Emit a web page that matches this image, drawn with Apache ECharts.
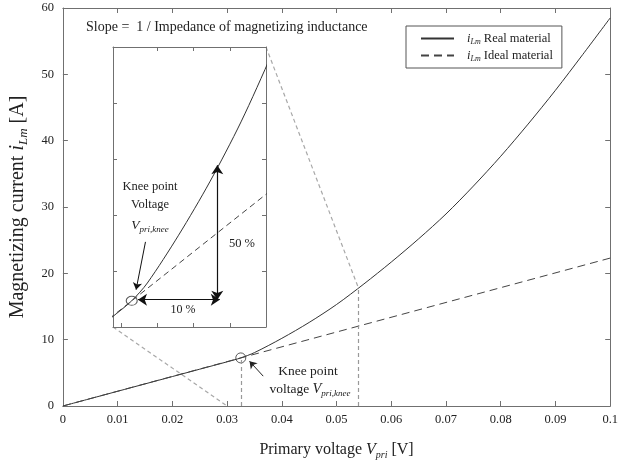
<!DOCTYPE html>
<html>
<head>
<meta charset="utf-8">
<script src="https://cdn.jsdelivr.net/npm/echarts@6/dist/echarts.min.js"></script>
<style>
html, body { margin: 0; padding: 0; background: #fff; }
#chart { width: 621px; height: 465px; }
</style>
</head>
<body>
<div id="chart"></div>
<script>
// values
const voltage = [0, 0.005, 0.01, 0.015, 0.02, 0.025, 0.03, 0.0325, 0.035, 0.04, 0.045, 0.05,
    0.055, 0.06, 0.065, 0.07, 0.075, 0.08, 0.085, 0.09, 0.095, 0.1];
const realCurrent = [0, 1.11, 2.22, 3.33, 4.44, 5.55, 6.66, 7.25, 8.05, 10.2, 12.6, 15.3,
    18.4, 21.7, 25.2, 28.95, 33.15, 37.65, 42.5, 47.6, 53.0, 58.5];
const idealVoltage = [0, 0.1];
const idealCurrent = [0, 22.3];

const knee = [0.0325, 7.25];
const zoomTop = [0.054, 17.8];     // where the zoomed region ends on the real curve
const zoomBottom = [0.030, 0];

const xTicks = [0, 0.01, 0.02, 0.03, 0.04, 0.05, 0.06, 0.07, 0.08, 0.09, 0.1];
const yTicks = [0, 10, 20, 30, 40, 50, 60];

// inset (magnified view around the knee)
const insetX = [0.0295, 0.054];
const insetY = [6.07, 18.67];
const insetXTicks = [0.0308, 0.0366, 0.0424, 0.0483];
const insetYTicks = [8.59, 11.11, 13.63, 16.15];
const tenPercent = [[0.0335, 7.3], [0.0466, 7.3]];
const fiftyPercent = [[0.0462, 7.3], [0.0462, 13.35]];
const insetPointer = [[0.0347, 9.9], [0.0332, 7.75]];
const mainPointer = [[0.0366, 4.5], [0.0341, 6.75]];

const legendLabels = { Real: 'Real material', Ideal: 'Ideal material' };

const SERIF = '"Liberation Serif", "Times New Roman", serif';
const INK = '#222';
const BOX = '#707070';

const pairs = (xs, ys) => xs.map((x, i) => [x, ys[i]]);
const realData = pairs(voltage, realCurrent);
const idealData = pairs(idealVoltage, idealCurrent);

const axisRich = (size) => ({
    t: { fontFamily: SERIF, fontSize: size, color: INK },
    i: { fontFamily: SERIF, fontSize: size, fontStyle: 'italic', color: INK, lineHeight: size + 5 },
    s: { fontFamily: SERIF, fontSize: Math.round(size * 0.65), fontStyle: 'italic', color: INK, verticalAlign: 'bottom', lineHeight: Math.round(size * 0.7) }
});

const boxAxis = (extra) => Object.assign({
    type: 'value',
    axisLine: { show: true, onZero: false, lineStyle: { color: BOX, width: 1 } },
    axisTick: { show: true, inside: true, length: 5, lineStyle: { color: BOX } },
    axisLabel: { show: false },
    splitLine: { show: false }
}, extra);

const chart = echarts.init(document.getElementById('chart'), null, { renderer: 'canvas' });

const option = {
    animation: false,
    backgroundColor: '#fff',
    grid: [
        { left: 62, top: 8, right: 1, bottom: 57 },
        { left: 113, top: 47, width: 153, height: 280, show: true, backgroundColor: '#fff', borderWidth: 0 }
    ],
    legend: {
        data: ['Real', 'Ideal'],
        orient: 'vertical',
        left: 406,
        top: 26,
        padding: [6, 9, 5, 14],
        itemWidth: 33,
        itemHeight: 12,
        itemGap: 3,
        borderColor: '#555',
        borderWidth: 1,
        backgroundColor: '#fff',
        itemStyle: { opacity: 0 },
        formatter: name => '{i|i}{s|Lm}{t| ' + legendLabels[name] + '}',
        textStyle: {
            padding: [0, 0, 0, 8],
            rich: {
                t: { fontFamily: SERIF, fontSize: 12.5, color: INK },
                i: { fontFamily: SERIF, fontSize: 12.5, fontStyle: 'italic', color: INK, lineHeight: 15 },
                s: { fontFamily: SERIF, fontSize: 8, fontStyle: 'italic', color: INK, verticalAlign: 'bottom', lineHeight: 9 }
            }
        }
    },
    xAxis: [
        boxAxis({
            gridIndex: 0, position: 'bottom', min: 0, max: 0.1, interval: 0.01,
            axisLabel: {
                show: true, margin: 7, fontFamily: SERIF, fontSize: 12.5, color: INK,
                formatter: v => String(xTicks[Math.round(v * 100)])
            },
            name: '{t|Primary voltage }{i|V}{s|pri}{t| [V]}',
            nameLocation: 'middle',
            nameGap: 33,
            nameTextStyle: { rich: axisRich(16) }
        }),
        boxAxis({ gridIndex: 0, position: 'top', min: 0, max: 0.1, interval: 0.01 }),
        boxAxis({ gridIndex: 1, position: 'bottom', min: insetX[0], max: insetX[1],
            axisTick: { show: true, inside: true, length: 4, lineStyle: { color: BOX }, customValues: insetXTicks } }),
        boxAxis({ gridIndex: 1, position: 'top', min: insetX[0], max: insetX[1],
            axisTick: { show: true, inside: true, length: 4, lineStyle: { color: BOX }, customValues: insetXTicks.slice(1) } })
    ],
    yAxis: [
        boxAxis({
            gridIndex: 0, position: 'left', min: 0, max: 60, interval: 10,
            axisLabel: { show: true, margin: 9, fontFamily: SERIF, fontSize: 12.5, color: INK,
                formatter: v => String(yTicks[Math.round(v / 10)]) },
            name: '{t|Magnetizing current }{i|i}{s|Lm}{t| [A]}',
            nameLocation: 'middle',
            nameRotate: 90,
            nameGap: 32,
            nameTextStyle: { rich: axisRich(20) }
        }),
        boxAxis({ gridIndex: 0, position: 'right', min: 0, max: 60, interval: 10 }),
        boxAxis({ gridIndex: 1, position: 'left', min: insetY[0], max: insetY[1],
            axisTick: { show: true, inside: true, length: 4, lineStyle: { color: BOX }, customValues: insetYTicks } }),
        boxAxis({ gridIndex: 1, position: 'right', min: insetY[0], max: insetY[1],
            axisTick: { show: true, inside: true, length: 4, lineStyle: { color: BOX }, customValues: insetYTicks } })
    ],
    series: [
        {
            name: 'Real', type: 'line', xAxisIndex: 0, yAxisIndex: 0,
            data: realData, symbol: 'none', smooth: 0.3,
            lineStyle: { color: '#333', width: 1 }, itemStyle: { color: '#333' }
        },
        {
            name: 'Ideal', type: 'line', xAxisIndex: 0, yAxisIndex: 0,
            data: idealData, symbol: 'none',
            lineStyle: { color: '#444', width: 1, type: [8, 5] }, itemStyle: { color: '#444' }
        },
        {
            name: 'knee', type: 'scatter', xAxisIndex: 0, yAxisIndex: 0,
            data: [knee], symbol: 'circle', symbolSize: 10, silent: true,
            itemStyle: { color: 'rgba(0,0,0,0)', borderColor: '#333', borderWidth: 1 },
            markLine: {
                silent: true, animation: false, label: { show: false },
                symbol: ['none', 'none'],
                lineStyle: { color: '#999', width: 1.2, type: [4, 3] },
                data: [
                    [{ coord: [knee[0], 0] }, { coord: knee }],
                    [{ coord: [zoomTop[0], 0] }, { coord: zoomTop }],
                    [{ coord: mainPointer[0], symbol: 'none', lineStyle: { color: '#222', type: 'solid', width: 1 } },
                     { coord: mainPointer[1], symbol: 'arrow', symbolSize: 7 }]
                ]
            }
        },
        {
            name: 'realInset', type: 'line', xAxisIndex: 2, yAxisIndex: 2,
            data: realData, symbol: 'none', smooth: 0.3,
            lineStyle: { color: '#333', width: 1 }
        },
        {
            name: 'idealInset', type: 'line', xAxisIndex: 2, yAxisIndex: 2,
            data: idealData, symbol: 'none',
            lineStyle: { color: '#444', width: 1, type: [6, 4] }
        },
        {
            name: 'kneeInset', type: 'scatter', xAxisIndex: 2, yAxisIndex: 2,
            data: [knee], symbol: 'circle', symbolSize: [11, 9], silent: true,
            itemStyle: { color: 'rgba(0,0,0,0)', borderColor: '#333', borderWidth: 1 },
            markLine: {
                silent: true, animation: false, label: { show: false },
                symbol: ['arrow', 'arrow'], symbolSize: 9,
                lineStyle: { color: '#111', width: 1.2, type: 'solid' },
                data: [
                    [{ coord: tenPercent[0] }, { coord: tenPercent[1] }],
                    [{ coord: fiftyPercent[0] }, { coord: fiftyPercent[1] }],
                    [{ coord: insetPointer[0], symbol: 'none', lineStyle: { width: 1 } },
                     { coord: insetPointer[1], symbol: 'arrow', symbolSize: 7 }]
                ]
            }
        }
    ]
};

chart.setOption(option);

// dashed lines tying the inset to the region it magnifies
const insetCornerTR = chart.convertToPixel({ seriesIndex: 3 }, [insetX[1], insetY[1]]);
const insetCornerBL = chart.convertToPixel({ seriesIndex: 3 }, [insetX[0], insetY[0]]);
const regionTop = chart.convertToPixel({ seriesIndex: 0 }, zoomTop);
const regionBottom = chart.convertToPixel({ seriesIndex: 0 }, zoomBottom);

const dashStyle = { stroke: '#a8a8a8', lineWidth: 1.2, lineDash: [4, 3] };
const txt = (x, y, text, size, extra) => ({
    type: 'text', x: x, y: y, silent: true, z: 100,
    style: Object.assign({
        text: text, font: size + 'px ' + SERIF, fill: INK, align: 'center', verticalAlign: 'middle'
    }, extra || {})
});
const subRich = (size) => ({
    v: { fontFamily: SERIF, fontSize: size + 1, fontStyle: 'italic', fill: INK, lineHeight: size + 5 },
    s: { fontFamily: SERIF, fontSize: Math.round(size * 0.7), fontStyle: 'italic', fill: INK, verticalAlign: 'bottom', lineHeight: Math.round(size * 0.7) },
    t: { fontFamily: SERIF, fontSize: size, fill: INK }
});

chart.setOption({
    graphic: [
        { type: 'line', silent: true, shape: { x1: insetCornerTR[0], y1: insetCornerTR[1], x2: regionTop[0], y2: regionTop[1] }, style: dashStyle },
        { type: 'line', silent: true, shape: { x1: insetCornerBL[0], y1: insetCornerBL[1], x2: regionBottom[0], y2: regionBottom[1] }, style: dashStyle },
        txt(86, 27, 'Slope =  1 / Impedance of magnetizing inductance', 14, { align: 'left' }),
        txt(150, 187, 'Knee point', 12.5),
        txt(150, 205, 'Voltage', 12.5),
        txt(150, 225, '{v|V}{s|pri,knee}', 12.5, { rich: subRich(12.5) }),
        txt(183, 310, '10 %', 12),
        txt(242, 244, '50 %', 12.5),
        txt(308, 371, 'Knee point', 13.5),
        txt(310, 389, '{t|voltage }{v|V}{s|pri,knee}', 13.5, { rich: subRich(13.5) })
    ]
});
</script>
</body>
</html>
